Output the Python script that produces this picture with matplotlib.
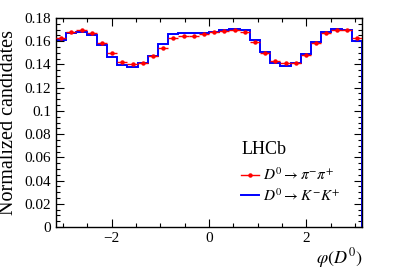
import numpy as np
import matplotlib
matplotlib.use("Agg")
import matplotlib.pyplot as plt
from matplotlib.ticker import MultipleLocator, FuncFormatter
from matplotlib.lines import Line2D

n_bins = 30
x_range = (-np.pi, np.pi)

pipi_vals = [0.1628, 0.1681, 0.1696, 0.1670, 0.1584, 0.1495, 0.1421, 0.1400, 0.1415, 0.1471,
             0.1545, 0.1628, 0.1643, 0.1649, 0.1664, 0.1676, 0.1687, 0.1699, 0.1681, 0.1596,
             0.1501, 0.1433, 0.1412, 0.1412, 0.1480, 0.1584, 0.1673, 0.1696, 0.1696, 0.1625]
pipi_err = [0.0008] * n_bins
kk_vals = [0.1607, 0.1673, 0.1681, 0.1652, 0.1569, 0.1465, 0.1397, 0.1382, 0.1412, 0.1474,
           0.1578, 0.1664, 0.1673, 0.1673, 0.1673, 0.1681, 0.1693, 0.1708, 0.1693, 0.1607,
           0.1504, 0.1415, 0.1385, 0.1415, 0.1489, 0.1593, 0.1681, 0.1702, 0.1693, 0.1599]

plt.rcParams['font.family'] = ['Liberation Serif', 'DejaVu Serif']
plt.rcParams['mathtext.fontset'] = 'stix'

fig = plt.figure(figsize=(3.99, 2.70), dpi=100)
ax = fig.add_axes([56/399, 1 - 227/270, (362-56)/399, (227-18)/270])

edges = np.linspace(x_range[0], x_range[1], n_bins + 1)
centers = 0.5 * (edges[:-1] + edges[1:])
halfw = 0.5 * (edges[1] - edges[0])

ax.stairs(kk_vals, edges, color='blue', lw=1.4, zorder=2)
ax.errorbar(centers, pipi_vals, xerr=halfw, yerr=pipi_err, fmt='o', color='red', ms=2.2,
            lw=1.0, capsize=0, zorder=3)

ax.set_xlim(x_range)
ax.set_ylim(0, 0.18)
ax.xaxis.set_major_locator(MultipleLocator(2))
ax.xaxis.set_minor_locator(MultipleLocator(0.5))
ax.yaxis.set_major_locator(MultipleLocator(0.02))
ax.yaxis.set_minor_locator(MultipleLocator(0.005))

def yfmt(v, p):
    s = f"{v:.2f}".rstrip('0').rstrip('.')
    return s if s else '0'
ax.yaxis.set_major_formatter(FuncFormatter(yfmt))
ax.xaxis.set_major_formatter(FuncFormatter(lambda v, p: f"{int(round(v))}".replace('-', '\u2212')))

ax.tick_params(which='both', direction='in', top=True, right=True, labelsize=11)
ax.tick_params(which='major', length=6, width=0.8)
ax.tick_params(which='minor', length=3, width=0.8)
for s in ax.spines.values():
    s.set_linewidth(1.0)

ax.set_ylabel('Normalized candidates', fontsize=14.5)
ax.yaxis.set_label_coords(-0.125, 0.5)
ax.set_xlabel(r'$\varphi(D^0)$', fontsize=13, loc='right')
ax.xaxis.set_label_coords(1.0, -0.09)

h_pipi = Line2D([], [], color='red', lw=1.0, marker='o', ms=2.2)
h_kk = Line2D([], [], color='blue', lw=1.4)
leg = ax.legend([h_pipi, h_kk],
                [r'$D^0 \rightarrow \pi^{-}\pi^{+}$', r'$D^0 \rightarrow K^{-}K^{+}$'],
                loc='lower left', bbox_to_anchor=(0.57, 0.06),
                frameon=False, fontsize=11, title='LHCb', title_fontsize=13,
                handlelength=1.2, handletextpad=0.2, labelspacing=0.25, borderpad=0.2)
leg._legend_box.align = 'left'
leg._legend_box.sep = 6

fig.savefig('out.png', dpi=100)
